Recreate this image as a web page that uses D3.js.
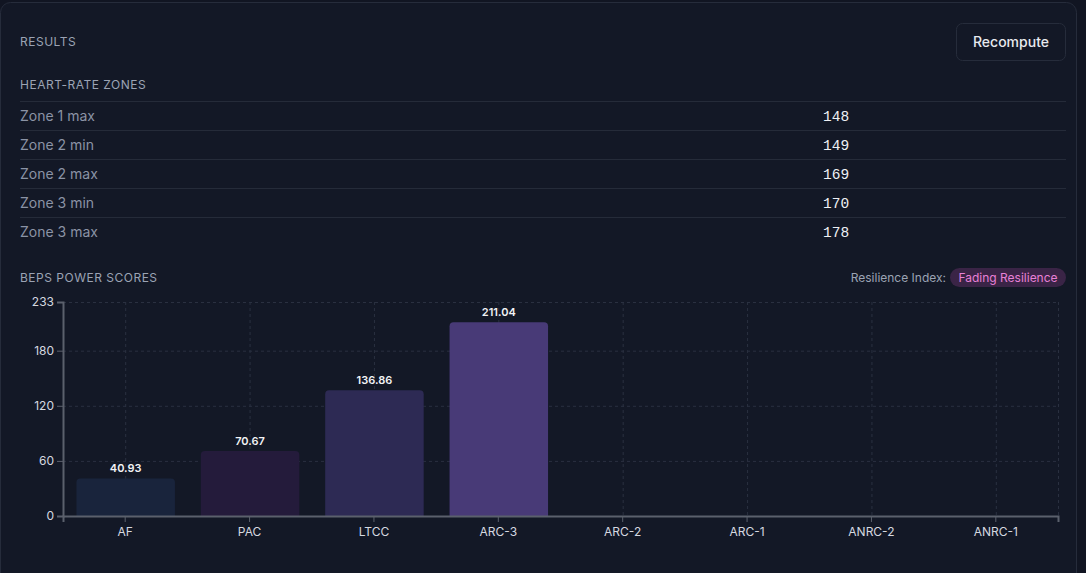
<!DOCTYPE html>
<html>
<head>
<meta charset="utf-8">
<script src="https://cdn.jsdelivr.net/npm/d3@7"></script>
<style>
  html, body { margin: 0; padding: 0; background: #111522; }
  svg { display: block; font-family: Inter, "Noto Sans", sans-serif; }
</style>
</head>
<body>
<svg id="svg-container"></svg>
<script>
const zoneLabels = ["Zone 1 max", "Zone 2 min", "Zone 2 max", "Zone 3 min", "Zone 3 max"];
const zoneValues = [148, 149, 169, 170, 178];

const categories = ["AF", "PAC", "LTCC", "ARC-3", "ARC-2", "ARC-1", "ANRC-2", "ANRC-1"];
const scores = [40.93, 70.67, 136.86, 211.04, null, null, null, null];
const barColors = ["#19243c", "#241b3b", "#2d2a54", "#483a77", "#483a77", "#483a77", "#483a77", "#483a77"];
const yTicks = [0, 60, 120, 180, 233];
const resilience = "Fading Resilience";

const width = 1086;
const height = 573;

const svg = d3.select("#svg-container")
    .attr("width", width)
    .attr("height", height);

// card
svg.append("rect")
    .attr("x", 0.5).attr("y", 2.5)
    .attr("width", 1076).attr("height", 600)
    .attr("rx", 10)
    .attr("fill", "#131826")
    .attr("stroke", "#262c3b");

// header
svg.append("text")
    .attr("x", 20).attr("y", 46)
    .attr("font-size", 12)
    .attr("letter-spacing", 0.5)
    .attr("fill", "#9ba3b4")
    .text("RESULTS");

const btn = svg.append("g");
btn.append("rect")
    .attr("x", 956.5).attr("y", 23.5)
    .attr("width", 109).attr("height", 37)
    .attr("rx", 6)
    .attr("fill", "#131826")
    .attr("stroke", "#262c3b");
btn.append("text")
    .attr("x", 1011).attr("y", 47)
    .attr("text-anchor", "middle")
    .attr("font-size", 14)
    .attr("font-weight", 500)
    .attr("fill", "#e8eaef")
    .text("Recompute");

svg.append("text")
    .attr("x", 20).attr("y", 89)
    .attr("font-size", 12)
    .attr("letter-spacing", 0.5)
    .attr("fill", "#9ba3b4")
    .text("HEART-RATE ZONES");

// zones table
const rowY = d3.scaleBand()
    .domain(zoneLabels)
    .range([101, 246]);

const row = svg.append("g")
    .selectAll("g")
    .data(zoneLabels)
    .enter()
    .append("g")
    .attr("transform", d => "translate(0," + rowY(d) + ")");

row.append("line")
    .attr("x1", 20).attr("x2", 1066)
    .attr("y1", 0.5).attr("y2", 0.5)
    .attr("stroke", "#252b39");

row.append("text")
    .attr("x", 20)
    .attr("y", rowY.bandwidth() / 2 + 5)
    .attr("font-size", 14)
    .attr("fill", "#8b93a5")
    .text(d => d);

row.append("text")
    .attr("x", 823)
    .attr("y", rowY.bandwidth() / 2 + 5)
    .attr("font-size", 14.5)
    .attr("font-family", "'Liberation Mono', monospace")
    .attr("fill", "#eef0f4")
    .text((d, i) => zoneValues[i]);

// chart header
svg.append("text")
    .attr("x", 20).attr("y", 282)
    .attr("font-size", 12)
    .attr("letter-spacing", 0.5)
    .attr("fill", "#9ba3b4")
    .text("BEPS POWER SCORES");

const badge = svg.append("g");
badge.append("rect")
    .attr("x", 950).attr("y", 268)
    .attr("width", 116).attr("height", 19)
    .attr("rx", 9.5)
    .attr("fill", "#3a2446");
badge.append("text")
    .attr("x", 1008).attr("y", 282)
    .attr("text-anchor", "middle")
    .attr("font-size", 12)
    .attr("fill", "#e880d6")
    .text(resilience);
badge.append("text")
    .attr("x", 946).attr("y", 282)
    .attr("text-anchor", "end")
    .attr("font-size", 12)
    .attr("fill", "#9ba3b4")
    .text("Resilience Index:");

// bar chart
const x = d3.scaleBand()
    .domain(categories)
    .range([63, 1058])
    .paddingInner(0.2)
    .paddingOuter(0.1);

const y = d3.scaleLinear()
    .domain([0, 233])
    .range([516, 302]);

const grid = svg.append("g")
    .attr("stroke", "#2a3040")
    .attr("stroke-dasharray", "3 3");

grid.selectAll("line.h")
    .data(yTicks)
    .enter()
    .append("line")
    .attr("x1", 63).attr("x2", 1058)
    .attr("y1", d => y(d) + 0.5).attr("y2", d => y(d) + 0.5);

grid.selectAll("line.v")
    .data(categories.map(c => x(c) + x.bandwidth() / 2).concat([1058]))
    .enter()
    .append("line")
    .attr("x1", d => d + 0.5).attr("x2", d => d + 0.5)
    .attr("y1", y(233)).attr("y2", y(0));

const bars = categories.map((c, i) => ({ cat: c, value: scores[i], color: barColors[i] }))
    .filter(d => d.value != null);

svg.append("g")
    .selectAll("path")
    .data(bars)
    .enter()
    .append("path")
    .attr("fill", d => d.color)
    .attr("d", d => {
        const x0 = x(d.cat) + 1, w = x.bandwidth() - 1, y0 = y(d.value), r = 4;
        return "M" + x0 + "," + y(0) +
            "V" + (y0 + r) +
            "Q" + x0 + "," + y0 + " " + (x0 + r) + "," + y0 +
            "H" + (x0 + w - r) +
            "Q" + (x0 + w) + "," + y0 + " " + (x0 + w) + "," + (y0 + r) +
            "V" + y(0) + "Z";
    });

svg.append("g")
    .selectAll("text")
    .data(bars)
    .enter()
    .append("text")
    .attr("x", d => x(d.cat) + x.bandwidth() / 2 + 0.5)
    .attr("y", d => y(d.value) - 6)
    .attr("text-anchor", "middle")
    .attr("font-size", 11)
    .attr("font-weight", 600)
    .attr("fill", "#f1f2f5")
    .text(d => d.value.toFixed(2));

const xAxis = svg.append("g")
    .attr("transform", "translate(0," + y(0) + ")")
    .call(d3.axisBottom(x).tickSizeOuter(0).tickSize(6).tickPadding(5));

const yAxis = svg.append("g")
    .attr("transform", "translate(63,0)")
    .call(d3.axisLeft(y).tickValues(yTicks).tickSizeOuter(0).tickSize(6).tickPadding(3));

[xAxis, yAxis].forEach(a => {
    a.select(".domain").attr("stroke", "#5b606c").attr("stroke-width", 2);
    a.selectAll(".tick line").attr("stroke", "#5b606c");
    a.selectAll(".tick text")
        .attr("fill", "#d6d9e0")
        .attr("font-size", 12)
        .attr("font-family", "Inter, sans-serif");
});
</script>
</body>
</html>
